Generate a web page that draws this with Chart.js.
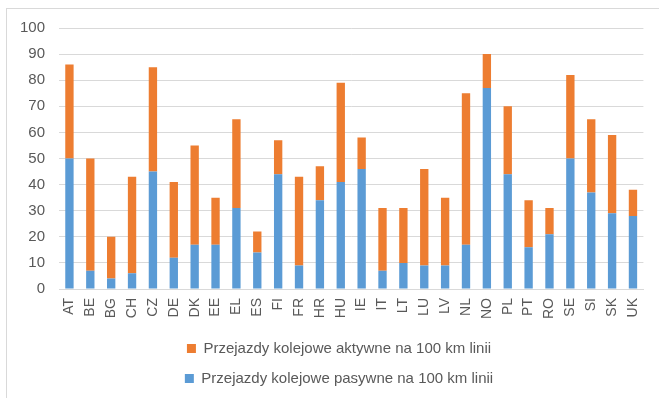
<!DOCTYPE html>
<html>
<head>
<meta charset="utf-8">
<script src="https://cdn.jsdelivr.net/npm/chart.js@4"></script>
<style>
  html, body { margin: 0; padding: 0; background: #fff; }
  #wrap { position: relative; width: 659px; height: 398px; overflow: hidden; }
  #frame { position: absolute; left: 6px; top: 8px; width: 700px; height: 450px;
           border-top: 1px solid #d9d9d9; border-left: 1px solid #d9d9d9; }
  canvas { position: absolute; left: 0; top: 0; }
</style>
</head>
<body>
<div id="wrap">
  <div id="frame"></div>
  <canvas id="chart" width="659" height="398"></canvas>
</div>
<script>
// kraje
const countries = ['AT', 'BE', 'BG', 'CH', 'CZ', 'DE', 'DK', 'EE', 'EL', 'ES', 'FI', 'FR', 'HR', 'HU',
  'IE', 'IT', 'LT', 'LU', 'LV', 'NL', 'NO', 'PL', 'PT', 'RO', 'SE', 'SI', 'SK', 'UK'];

// przejazdy pasywne (dolna część słupka)
const passive = [50, 7, 4, 6, 45, 12, 17, 17, 31, 14, 44, 9, 34, 41,
  46, 7, 10, 9, 9, 17, 77, 44, 16, 21, 50, 37, 29, 28];

// przejazdy aktywne (górna część słupka)
const active = [36, 43, 16, 37, 40, 29, 38, 18, 34, 8, 13, 34, 13, 38,
  12, 24, 21, 37, 26, 58, 13, 26, 18, 10, 32, 28, 30, 10];

const labelActive = 'Przejazdy kolejowe aktywne na 100 km linii';
const labelPassive = 'Przejazdy kolejowe pasywne na 100 km linii';

const font = "'Liberation Sans', Arial, sans-serif";
const grey = '#595959';

// legenda w Excelu jest lekko przesunięta w prawo
const legendShift = {
  id: 'legendShift',
  afterLayout(chart) {
    chart.legend.left += 9;
    chart.legend.right += 9;
  }
};

new Chart(document.getElementById('chart'), {
  type: 'bar',
  data: {
    labels: countries,
    datasets: [
      {
        label: labelPassive,
        data: passive,
        backgroundColor: '#5B9BD5',
        barPercentage: 0.4,
        categoryPercentage: 1
      },
      {
        label: labelActive,
        data: active,
        backgroundColor: '#ED7D31',
        barPercentage: 0.4,
        categoryPercentage: 1
      }
    ]
  },
  plugins: [legendShift],
  options: {
    responsive: false,
    animation: false,
    layout: { padding: { top: 28, left: 14, right: 13, bottom: 2 } },
    plugins: {
      tooltip: { enabled: false },
      legend: {
        position: 'bottom',
        reverse: true,
        labels: {
          boxWidth: 9,
          boxHeight: 9,
          padding: 15,
          color: grey,
          font: { family: font, size: 15 }
        }
      }
    },
    scales: {
      x: {
        stacked: true,
        grid: { display: false, drawTicks: false },
        border: { display: true, color: '#d9d9d9', width: 1 },
        ticks: {
          color: grey,
          font: { family: font, size: 14 },
          minRotation: 90,
          maxRotation: 90,
          autoSkip: false,
          padding: 9
        },
        afterFit(scale) { scale.height = 37; }
      },
      y: {
        stacked: true,
        min: 0,
        max: 100,
        grid: { color: '#d9d9d9', drawTicks: false },
        border: { display: false },
        ticks: {
          stepSize: 10,
          color: grey,
          font: { family: font, size: 15 },
          padding: 14
        },
        afterFit(scale) { scale.width = 45; }
      }
    }
  }
});
</script>
</body>
</html>
